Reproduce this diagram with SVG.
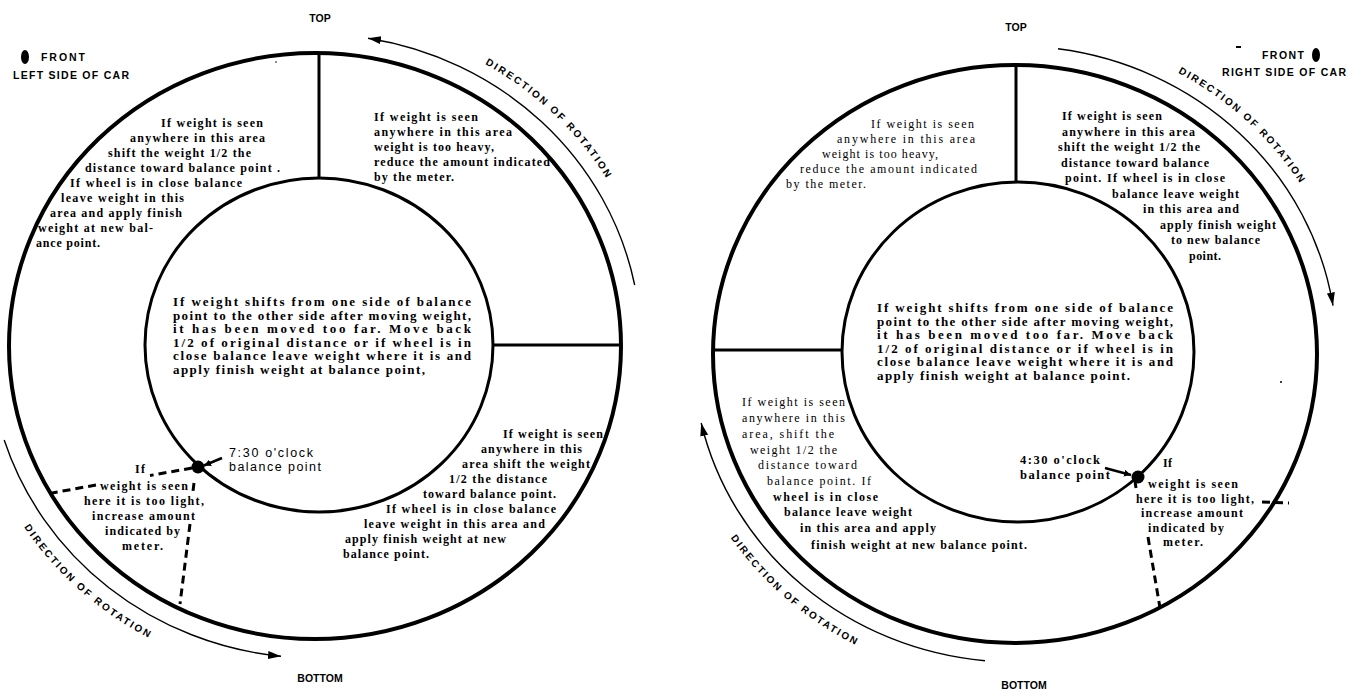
<svg xmlns="http://www.w3.org/2000/svg" width="1359" height="692" viewBox="0 0 1359 692">
<style>
.ring{fill:none;stroke:#000;stroke-width:4}
.inner{fill:none;stroke:#000;stroke-width:3}
.div{stroke:#000;stroke-width:3}
.rot{fill:none;stroke:#000;stroke-width:1.4;marker-end:url(#ah)}
.dash{fill:none;stroke:#000;stroke-width:3;stroke-dasharray:8 5}
.ptr{stroke:#000;stroke-width:2.5;marker-end:url(#ahs)}
.t{font-family:"Liberation Serif","Times New Roman",serif;font-weight:bold;font-size:12px;fill:#000}
.tn{font-weight:normal}
.tc{font-size:13px}
.lbl{font-family:"Liberation Sans",Arial,sans-serif;font-weight:bold;font-size:10.5px;fill:#000}
.rt{font-family:"Liberation Sans",Arial,sans-serif;font-weight:bold;font-size:10px;fill:#000}
.clk{font-family:"Liberation Sans",Arial,sans-serif;font-size:12.5px;fill:#000}
</style>
<defs>
<marker id="ah" markerUnits="userSpaceOnUse" markerWidth="14" markerHeight="9" refX="13" refY="4" orient="auto"><path d="M0,0 L13,4 L0,8 z" fill="#000"/></marker>
<marker id="ahs" markerUnits="userSpaceOnUse" markerWidth="8" markerHeight="7" refX="7" refY="3.5" orient="auto"><path d="M0,0 L7,3.5 L0,7 z" fill="#000"/></marker>
<path id="pLU" d="M 485 64.1 A 340 325.5 0 0 1 609.4 183.25"/>
<path id="pLL" d="M 24 527.1 A 347 332.5 0 0 0 162.9 644.9"/>
<path id="pRU" d="M 1177.9 72.8 A 336 321.5 0 0 1 1306 193.25"/>
<path id="pRL" d="M 730.6 537.7 A 343 328.5 0 0 0 864.6 649.3"/>
</defs>
<rect width="1359" height="692" fill="#fff"/>

<g id="left-wheel">
<ellipse class="ring" cx="315" cy="346" rx="306" ry="293"/>
<ellipse class="inner" cx="319" cy="345" rx="174" ry="167"/>
<line class="div" x1="319" y1="53" x2="319" y2="178"/>
<line class="div" x1="493" y1="345" x2="621" y2="345" stroke-width="4"/>
<circle cx="198" cy="467" r="6.5" fill="#000"/>
<circle cx="276" cy="62" r="0.8" fill="#000"/>
</g>

<g id="left-labels">
<text class="lbl" x="320" y="22" text-anchor="middle">TOP</text>
<text class="lbl" x="320" y="682" text-anchor="middle">BOTTOM</text>
<ellipse cx="25" cy="57" rx="4" ry="7" fill="#000"/>
<text class="lbl" x="41" y="61" textLength="44" lengthAdjust="spacing">FRONT</text>
<text class="lbl" x="13" y="79" textLength="116" lengthAdjust="spacing">LEFT SIDE OF CAR</text>
<text class="rt"><textPath href="#pLU" textLength="168" lengthAdjust="spacing">DIRECTION OF ROTATION</textPath></text>
<text class="rt"><textPath href="#pLL" textLength="168" lengthAdjust="spacing">DIRECTION OF ROTATION</textPath></text>
</g>

<g id="left-upper-left" class="t">
<text x="161" y="127" textLength="102" lengthAdjust="spacing">If weight is seen</text>
<text x="130" y="142" textLength="135" lengthAdjust="spacing">anywhere in this area</text>
<text x="108" y="157" textLength="143" lengthAdjust="spacing">shift the weight 1/2 the</text>
<text x="85" y="172" textLength="195" lengthAdjust="spacing">distance toward balance point .</text>
<text x="70" y="187" textLength="172" lengthAdjust="spacing">If wheel is in close balance</text>
<text x="61" y="202" textLength="123" lengthAdjust="spacing">leave weight in this</text>
<text x="50" y="217" textLength="132" lengthAdjust="spacing">area and apply finish</text>
<text x="38" y="232" textLength="115" lengthAdjust="spacing">weight at new bal-</text>
<text x="36" y="247" textLength="64" lengthAdjust="spacing">ance point.</text>
</g>

<g id="left-upper-right" class="t">
<text x="374" y="121" textLength="104" lengthAdjust="spacing">If weight is seen</text>
<text x="374" y="136" textLength="138" lengthAdjust="spacing">anywhere in this area</text>
<text x="374" y="151" textLength="120" lengthAdjust="spacing">weight is too heavy,</text>
<text x="374" y="166" textLength="176" lengthAdjust="spacing">reduce the amount indicated</text>
<text x="374" y="181" textLength="80" lengthAdjust="spacing">by the meter.</text>
</g>

<g id="left-center" class="t tc">
<text x="173" y="306" textLength="298" lengthAdjust="spacing">If weight shifts from one side of balance</text>
<text x="173" y="319.6" textLength="298" lengthAdjust="spacing">point to the other side after moving weight,</text>
<text x="173" y="333.2" textLength="298" lengthAdjust="spacing">it has been moved too far.  Move back</text>
<text x="173" y="346.8" textLength="298" lengthAdjust="spacing">1/2 of original distance or if wheel is in</text>
<text x="173" y="360.4" textLength="298" lengthAdjust="spacing">close balance leave weight where it is and</text>
<text x="173" y="374" textLength="252" lengthAdjust="spacing">apply finish weight at balance point,</text>
</g>

<g id="left-balance-point">
<text class="clk" x="229" y="457" textLength="84" lengthAdjust="spacing">7:30 o'clock</text>
<text class="clk" x="229" y="471" textLength="92" lengthAdjust="spacing">balance point</text>
</g>

<g id="left-lower-left" class="t">
<text x="135" y="473" textLength="10" lengthAdjust="spacing">If</text>
<text x="100" y="490" textLength="88" lengthAdjust="spacing">weight is seen</text>
<text x="84" y="505" textLength="120" lengthAdjust="spacing">here it is too light,</text>
<text x="92" y="520" textLength="103" lengthAdjust="spacing">increase amount</text>
<text x="105" y="535" textLength="75" lengthAdjust="spacing">indicated by</text>
<text x="122" y="550" textLength="41" lengthAdjust="spacing">meter.</text>
</g>

<g id="left-lower-right" class="t">
<text x="503" y="438" textLength="100" lengthAdjust="spacing">If weight is seen</text>
<text x="481" y="453" textLength="101" lengthAdjust="spacing">anywhere in this</text>
<text x="462" y="468" textLength="128" lengthAdjust="spacing">area shift the weight</text>
<text x="449" y="483" textLength="98" lengthAdjust="spacing">1/2 the distance</text>
<text x="423" y="498" textLength="133" lengthAdjust="spacing">toward balance point.</text>
<text x="386" y="513" textLength="170" lengthAdjust="spacing">If wheel is in close balance</text>
<text x="364" y="528" textLength="181" lengthAdjust="spacing">leave weight in this area and</text>
<text x="345" y="543" textLength="161" lengthAdjust="spacing">apply finish weight at new</text>
<text x="343" y="558" textLength="86" lengthAdjust="spacing">balance point.</text>
</g>

<g id="right-wheel">
<ellipse class="ring" cx="1015" cy="354" rx="302" ry="289"/>
<ellipse class="inner" cx="1018" cy="352" rx="176" ry="170"/>
<line class="div" x1="1016" y1="65" x2="1016" y2="182"/>
<line class="div" x1="713" y1="350" x2="842" y2="350" stroke-width="4"/>
<circle cx="1138" cy="477" r="6.5" fill="#000"/>
<circle cx="1281" cy="382" r="1" fill="#000"/>
<rect x="1236" y="46" width="5" height="2" fill="#000"/>
</g>

<g id="right-labels">
<text class="lbl" x="1016" y="31" text-anchor="middle">TOP</text>
<text class="lbl" x="1024" y="689" text-anchor="middle">BOTTOM</text>
<text class="lbl" x="1262" y="59" font-size="10" textLength="42" lengthAdjust="spacing">FRONT</text>
<ellipse cx="1316" cy="55" rx="4" ry="7" fill="#000"/>
<text class="lbl" x="1222" y="76" font-size="10" textLength="124" lengthAdjust="spacing">RIGHT SIDE OF CAR</text>
<text class="rt"><textPath href="#pRU" textLength="166" lengthAdjust="spacing">DIRECTION OF ROTATION</textPath></text>
<text class="rt"><textPath href="#pRL" textLength="166" lengthAdjust="spacing">DIRECTION OF ROTATION</textPath></text>
</g>

<g id="right-upper-left" class="t tn">
<text x="871" y="128" textLength="103" lengthAdjust="spacing">If weight is seen</text>
<text x="837" y="143" textLength="138" lengthAdjust="spacing">anywhere in this area</text>
<text x="822" y="158" textLength="116" lengthAdjust="spacing">weight is too heavy,</text>
<text x="800" y="173" textLength="177" lengthAdjust="spacing">reduce the amount indicated</text>
<text x="786" y="188" textLength="80" lengthAdjust="spacing">by the meter.</text>
</g>

<g id="right-upper-right" class="t">
<text x="1062" y="120" textLength="100" lengthAdjust="spacing">If weight is seen</text>
<text x="1062" y="135.5" textLength="133" lengthAdjust="spacing">anywhere in this area</text>
<text x="1058" y="151" textLength="142" lengthAdjust="spacing">shift the weight 1/2 the</text>
<text x="1061" y="166.5" textLength="148" lengthAdjust="spacing">distance toward balance</text>
<text x="1065" y="182" textLength="160" lengthAdjust="spacing">point.  If wheel is in close</text>
<text x="1112" y="197.5" textLength="127" lengthAdjust="spacing">balance leave weight</text>
<text x="1143" y="213" textLength="96" lengthAdjust="spacing">in this area and</text>
<text x="1160" y="228.5" textLength="116" lengthAdjust="spacing">apply finish weight</text>
<text x="1171" y="244" textLength="89" lengthAdjust="spacing">to new balance</text>
<text x="1189" y="259.5" textLength="32" lengthAdjust="spacing">point.</text>
</g>

<g id="right-center" class="t tc">
<text x="877" y="312" textLength="296" lengthAdjust="spacing">If weight shifts from one side of balance</text>
<text x="877" y="325.6" textLength="296" lengthAdjust="spacing">point to the other side after moving weight,</text>
<text x="877" y="339.2" textLength="296" lengthAdjust="spacing">it has been moved too far.  Move back</text>
<text x="877" y="352.8" textLength="296" lengthAdjust="spacing">1/2 of original distance or if wheel is in</text>
<text x="877" y="366.4" textLength="296" lengthAdjust="spacing">close balance leave weight where it is and</text>
<text x="877" y="380" textLength="253" lengthAdjust="spacing">apply finish weight at balance point.</text>
</g>

<g id="right-balance-point" class="t">
<text x="1020" y="464" font-size="12.5" textLength="80" lengthAdjust="spacing">4:30 o'clock</text>
<text x="1020" y="479" font-size="12.5" textLength="90" lengthAdjust="spacing">balance point</text>
</g>

<g id="right-lower-left" class="t">
<text class="tn" x="742" y="406" textLength="103" lengthAdjust="spacing">If weight is seen</text>
<text class="tn" x="742" y="422" textLength="103" lengthAdjust="spacing">anywhere in this</text>
<text class="tn" x="742" y="438" textLength="92" lengthAdjust="spacing">area, shift the</text>
<text class="tn" x="750" y="454" textLength="87" lengthAdjust="spacing">weight 1/2 the</text>
<text class="tn" x="758" y="469" textLength="99" lengthAdjust="spacing">distance toward</text>
<text class="tn" x="767" y="485" textLength="104" lengthAdjust="spacing">balance point.  If</text>
<text x="773" y="501" textLength="105" lengthAdjust="spacing">wheel is in close</text>
<text x="784" y="516" textLength="128" lengthAdjust="spacing">balance leave weight</text>
<text x="800" y="532" textLength="136" lengthAdjust="spacing">in this area and apply</text>
<text x="811" y="549" textLength="216" lengthAdjust="spacing">finish weight at new balance point.</text>
</g>

<g id="right-lower-right" class="t">
<text x="1163" y="467" textLength="9" lengthAdjust="spacing">If</text>
<text x="1148" y="488" textLength="90" lengthAdjust="spacing">weight is seen</text>
<text x="1136" y="503" textLength="118" lengthAdjust="spacing">here it is too light,</text>
<text x="1141" y="517" textLength="102" lengthAdjust="spacing">increase amount</text>
<text x="1148" y="532" textLength="76" lengthAdjust="spacing">indicated by</text>
<text x="1163" y="546" textLength="40" lengthAdjust="spacing">meter.</text>
</g>

<g id="connectors">
<path class="rot" d="M 634.7 285 A 326 312 0 0 0 368 38.2"/>
<path class="rot" d="M 4.2 440 A 326 312 0 0 0 281 656.3"/>
<path class="rot" d="M 1058 48.8 A 322 308 0 0 1 1333 305.6"/>
<path class="rot" d="M 985 660.7 A 322 308 0 0 1 701.2 423"/>
<line class="ptr" x1="222" y1="458" x2="204" y2="465.5"/>
<line class="ptr" x1="1105" y1="468" x2="1131" y2="475"/>
<line class="dash" x1="192" y1="468" x2="150" y2="475.5"/>
<line class="dash" x1="96" y1="485" x2="52" y2="493"/>
<line class="dash" x1="194" y1="483" x2="193" y2="491"/>
<line class="dash" x1="190" y1="524" x2="180" y2="604"/>
<line class="dash" x1="1135" y1="481" x2="1136" y2="488"/>
<line class="dash" x1="1148" y1="537" x2="1160" y2="608"/>
<line class="dash" x1="1262" y1="502" x2="1289" y2="503" stroke-dasharray="6 3"/>
</g>
</svg>
